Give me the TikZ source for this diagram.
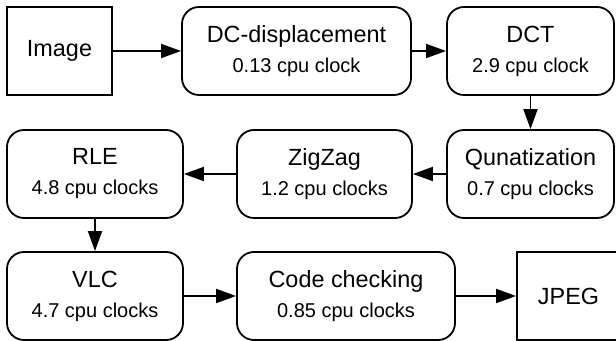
\documentclass[tikz,border=0pt]{standalone}
\usepackage{fontspec}
\setmainfont{Liberation Sans}
\usepackage{tikz}
\usetikzlibrary{shapes,arrows.meta}
\newcommand{\mainsize}{\fontsize{11.7}{15}\selectfont}
\newcommand{\subsize}{\fontsize{10}{15}\selectfont}
\tikzstyle{block} = [rectangle, draw, line width=0.9pt, rounded corners=8.5pt,
    align=center, minimum height=44pt, inner sep=0pt, font=\mainsize]
\tikzstyle{io} = [rectangle, draw, line width=0.9pt,
    minimum height=44pt, inner sep=0pt, font=\mainsize]
\tikzstyle{line} = [draw, line width=0.9pt, -{Triangle[length=10pt,width=7pt]}]

\begin{document}
\begin{tikzpicture}[x=0.5pt,y=-0.5pt]
      \clip (0,0) rectangle (616,341);
      % first row
      \node[io,minimum width=52.5pt] (img) at (59.5,51) {Image};
      \node[block,minimum width=114.5pt] (dcdisp) at (296.5,51) {DC-displacement\\{\subsize 0.13 cpu clock}};
      \node[block,minimum width=83.5pt] (dct) at (530.5,51) {DCT\\{\subsize 2.9 cpu clock}};
      % second row, right to left
      \node[block,minimum width=83.5pt] (quant) at (530.5,174) {Qunatization\\{\subsize 0.7 cpu clocks}};
      \node[block,minimum width=87.5pt] (zigzag) at (324.5,174) {ZigZag\\{\subsize 1.2 cpu clocks}};
      \node[block,minimum width=88pt] (rle) at (95,174) {RLE\\{\subsize 4.8 cpu clocks}};
      % third row
      \node[block,minimum width=88pt] (vlc) at (95,296) {VLC\\{\subsize 4.7 cpu clocks}};
      \node[block,minimum width=109pt] (check) at (346,296) {Code checking\\{\subsize 0.85 cpu clocks}};
      \node[io,minimum width=51.5pt] (jpeg) at (568.5,296) {JPEG};

      \draw[line] (img) -- (dcdisp);
      \draw[line] (dcdisp) -- (dct);
      \draw[line] (dct) -- (quant);
      \draw[line] (quant) -- (zigzag);
      \draw[line] (zigzag) -- (rle);
      \draw[line] (rle) -- (vlc);
      \draw[line] (vlc) -- (check);
      \draw[line] (check) -- (jpeg);
    \end{tikzpicture}
\end{document}
